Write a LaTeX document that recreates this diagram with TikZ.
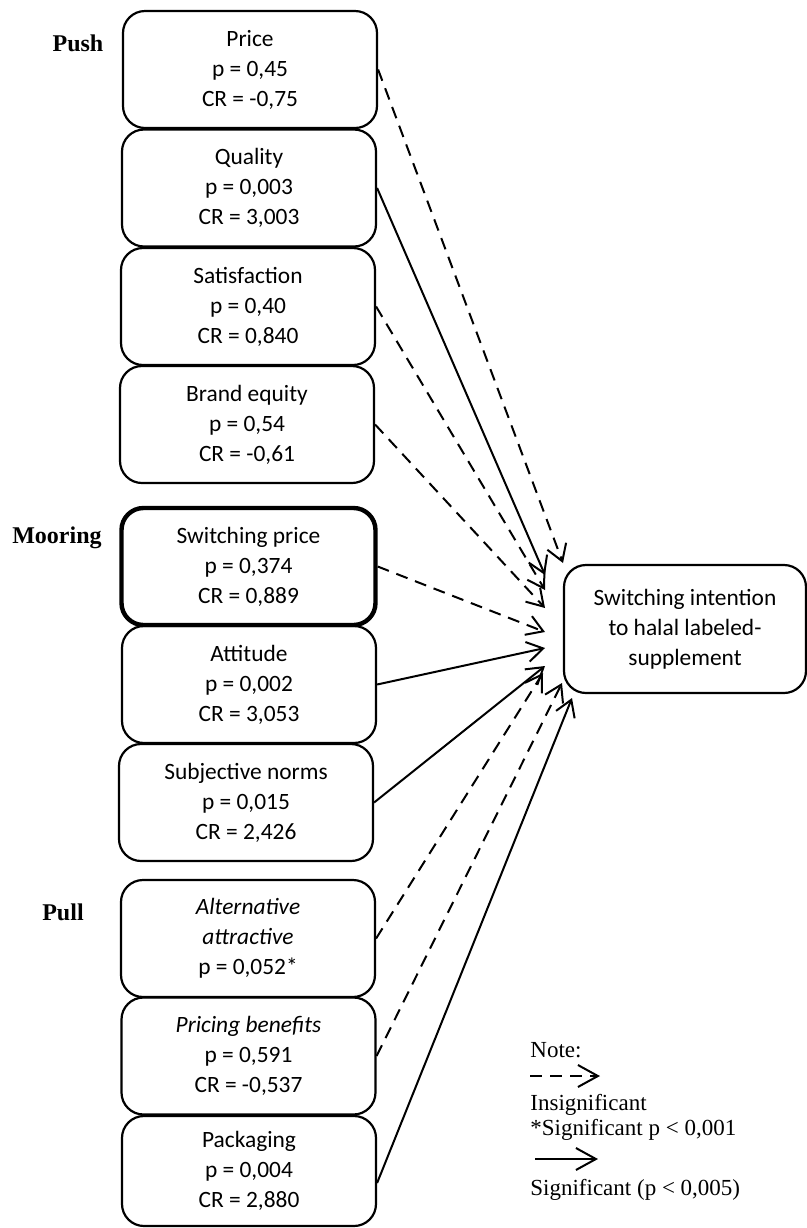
\documentclass[tikz,border=0pt]{standalone}
\usepackage{fontspec}
\setmainfont{Liberation Serif}
\newfontfamily\boxfont{Carlito}
\usetikzlibrary{arrows.meta}

\begin{document}
\begin{tikzpicture}[x=0.5pt, y=-0.5pt,
    box/.style={rectangle, rounded corners=11pt, draw, line width=1.1pt, minimum width=127pt, minimum height=58.5pt, inner sep=0pt, align=center, font=\boxfont\fontsize{11.7}{15}\selectfont},
    factor/.style={inner sep=0pt, font=\bfseries\fontsize{12}{14}\selectfont},
    note/.style={anchor=west, inner sep=0pt, font=\fontsize{11.5}{14}\selectfont},
    sig/.style={line width=1pt, -{Straight Barb[length=8pt,width=10pt]}},
    insig/.style={sig, dash pattern=on 6pt off 4pt}]

            \useasboundingbox (0,0) rectangle (807,1228);

            %push factors
            \node[box] (b1) at (250, 69.5) {Price\\p = 0,45\\CR = -0,75};
            \node[box] (b2) at (249, 188) {Quality\\p = 0,003\\CR = 3,003};
            \node[box] (b3) at (248, 306.5) {Satisfaction\\p = 0,40\\CR = 0,840};
            \node[box] (b4) at (247, 424.5) {Brand equity\\p = 0,54\\CR = -0,61};
            \node[factor] (push) at (78, 43) {Push};

            %mooring factors
            \node[box, line width=2.2pt] (b5) at (248.5, 566.5) {Switching price\\p = 0,374\\CR = 0,889};
            \node[box] (b6) at (249, 684.5) {Attitude\\p = 0,002\\CR = 3,053};
            \node[box] (b7) at (246, 802.5) {Subjective norms\\p = 0,015\\CR = 2,426};
            \node[factor] (mooring) at (57, 538) {Mooring};

            %pull factors
            \node[box] (b8) at (248, 938.5) {\textit{Alternative}\\\textit{attractive}\\p = 0,052*};
            \node[box] (b9) at (248.5, 1056) {\textit{Pricing benefits}\\p = 0,591\\CR = -0,537};
            \node[box, minimum height=55pt] (b10) at (249, 1171) {Packaging\\p = 0,004\\CR = 2,880};
            \node[factor] (pull) at (63, 912) {Pull};

            %switching intention
            \node[box, minimum width=121pt, minimum height=64pt] (o) at (685, 629) {Switching intention\\to halal labeled-\\supplement};

            %arrow tips in front of the intention box
            \coordinate (a1) at (563, 563);
            \coordinate (a2) at (545, 575);
            \coordinate (a3) at (545, 590);
            \coordinate (a4) at (545, 608);
            \coordinate (a5) at (545, 632);
            \coordinate (a6) at (545, 648);
            \coordinate (a7) at (545, 666);
            \coordinate (a8) at (543, 673);
            \coordinate (a9) at (562, 683);
            \coordinate (a10) at (572, 698);

            %connections
            \foreach \i/\s in {1/insig, 2/sig, 3/insig, 4/insig, 5/insig, 6/sig, 7/sig, 8/insig, 9/insig}{
                \draw[\s] (b\i.east) -- (a\i);
            };
            \draw[sig] ([yshift=-6pt]b10.east) -- (a10);

            %legend
            \node[note] (lab_note) at (530, 1050) {Note:};
            \coordinate (d1) at (530, 1076);
            \coordinate (d2) at (600, 1076);
            \draw[insig, -{Straight Barb[length=10pt,width=11pt]}] (d1) -- (d2);
            \node[note] (lab_ins) at (530, 1105) {Insignificant};
            \node[note] (lab_star) at (530, 1130) {*Significant p < 0,001};
            \coordinate (s1) at (535, 1159);
            \coordinate (s2) at (598, 1159);
            \draw[sig, -{Straight Barb[length=10pt,width=11pt]}] (s1) -- (s2);
            \node[note] (lab_sig) at (530, 1190) {Significant (p < 0,005)};
        \end{tikzpicture}
\end{document}
